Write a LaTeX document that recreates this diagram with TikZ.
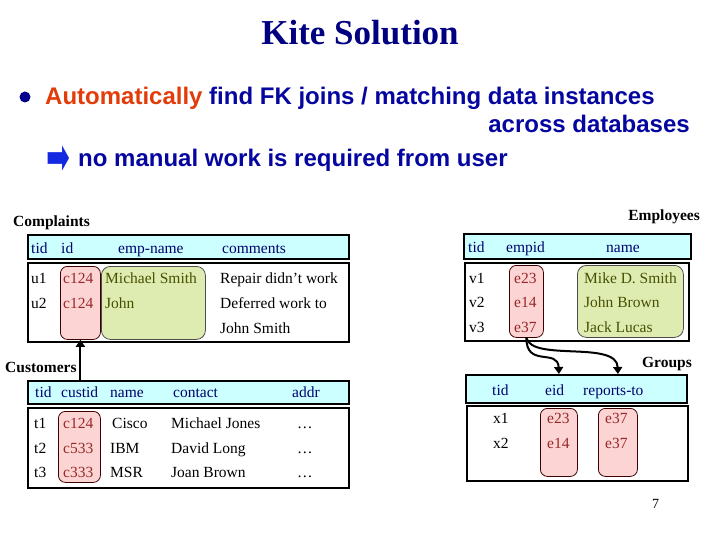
\documentclass[tikz,border=0pt]{standalone}
\usepackage{fontspec}
\usepackage{graphicx}
\setmainfont{Liberation Serif}
\newfontfamily\KTsans{Liberation Sans}
\newfontfamily\KTdeja{DejaVu Sans}
\usetikzlibrary{arrows.meta}
\definecolor{navy}{RGB}{0,0,128}
\definecolor{bulc}{RGB}{5,5,160}
\definecolor{bulldot}{RGB}{0,0,140}
\definecolor{arrc}{RGB}{20,40,225}
\definecolor{autoc}{RGB}{225,60,10}
\definecolor{hdrc}{RGB}{204,255,255}
\definecolor{pinkc}{RGB}{252,212,212}
\definecolor{greenc}{RGB}{222,236,178}
\definecolor{pinkt}{RGB}{150,40,40}
\definecolor{greent}{RGB}{70,80,0}
\definecolor{hdrt}{RGB}{0,0,110}
\newcommand\KTtbl{\fontsize{15.5}{18}\selectfont}
\newcommand\KTlab{\fontsize{15.5}{18}\selectfont\bfseries}
\newcommand\KTbul{\KTsans\bfseries\fontsize{24}{28}\selectfont}
\newcommand\KTtitle{\fontsize{35}{40}\selectfont\bfseries}
\begin{document}
\begin{tikzpicture}[x=1pt,y=-1pt,
  hdr/.style={draw=black, line width=2.4pt, fill=hdrc, anchor=north west, inner sep=0},
  body/.style={draw=black, line width=2.4pt, fill=white, anchor=north west, inner sep=0},
  pinkb/.style={draw=black!60!red!60!black, fill=pinkc, line width=0.8pt, rounded corners=7pt, anchor=north west, inner sep=0},
  greenb/.style={draw=black!70, fill=greenc, line width=0.8pt, rounded corners=9pt, anchor=north west, inner sep=0},
  txt/.style={anchor=base west, inner sep=0, font=\KTtbl},
  ht/.style={txt, text=hdrt},
  pt/.style={txt, text=pinkt},
  gt/.style={txt, text=greent},
  lab/.style={anchor=base west, inner sep=0, font=\KTlab},
  conn/.style={line width=2pt, -{Triangle[length=7pt,width=9pt]}},
  btxt/.style={anchor=base west, inner sep=0, font=\KTbul, text=bulc}]
\useasboundingbox (0,0) rectangle (720,540);
% title
\node[anchor=base, inner sep=0, font=\KTtitle, text=navy] (title) at (360,45) {Kite Solution};
% bullet
\node[circle, fill=bulldot, inner sep=0, minimum size=11pt] (bullet) at (25,97) {};
\node[btxt] (b1) at (45,105) {\textcolor{autoc}{Automatically} find FK joins / matching data instances};
\node[btxt, anchor=base east] (b2) at (690,133) {across databases};
\node[anchor=center, inner sep=0, text=arrc, font=\KTdeja\fontsize{30}{34}\selectfont] (b3a) at (58,160) {\scalebox{0.95}[1.7]{➡}};
\node[btxt] (b3) at (78,167) {no manual work is required from user};

% ---------------- Complaints
\node[lab] (clab) at (13,226) {Complaints};
\node[hdr, minimum width=321pt, minimum height=24pt] (chd) at (27,234) {};
\node[body, minimum width=321pt, minimum height=79pt] (cbd) at (27,262) {};
\node[pinkb, minimum width=40pt, minimum height=73pt] (cpk) at (60,266) {};
\node[greenb, minimum width=104pt, minimum height=73pt] (cgr) at (101,266) {};
\node[ht] (ch1) at (31,253) {tid};
\node[ht] (ch2) at (61,253) {id};
\node[ht] (ch3) at (118,253) {emp-name};
\node[ht] (ch4) at (222,253) {comments};
\node[txt] (cu1) at (31,283) {u1};
\node[pt] (cc1) at (63,283) {c124};
\node[gt] (cn1) at (105,283) {Michael Smith};
\node[txt] (cm1) at (220,283) {Repair didn't work};
\node[txt] (cu2) at (31,308) {u2};
\node[pt] (cc2) at (63,308) {c124};
\node[gt] (cn2) at (105,308) {John};
\node[txt] (cm2) at (220,308) {Deferred work to};
\node[txt] (cm3) at (220,333) {John Smith};

% ---------------- Employees
\node[lab, anchor=base east] (elab) at (700,221) {Employees};
\node[hdr, minimum width=227pt, minimum height=25pt] (ehd) at (463,233) {};
\node[body, minimum width=224pt, minimum height=78pt] (ebd) at (464,262) {};
\node[pinkb, minimum width=34pt, minimum height=72pt] (epk) at (509,265) {};
\node[greenb, minimum width=106pt, minimum height=72pt] (egr) at (577,265) {};
\node[ht] (eh1) at (468,252) {tid};
\node[ht] (eh2) at (506,252) {empid};
\node[ht] (eh3) at (606,252) {name};
\node[txt] (ev1) at (469,283) {v1};
\node[pt] (ee1) at (514,283) {e23};
\node[gt] (en1) at (584,283) {Mike D. Smith};
\node[txt] (ev2) at (469,307) {v2};
\node[pt] (ee2) at (514,307) {e14};
\node[gt] (en2) at (584,307) {John Brown};
\node[txt] (ev3) at (469,332) {v3};
\node[pt] (ee3) at (514,332) {e37};
\node[gt] (en3) at (584,332) {Jack Lucas};

% ---------------- Customers
\node[lab] (ulab) at (5,372) {Customers};
\node[hdr, minimum width=321pt, minimum height=23pt] (uhd) at (27,380) {};
\node[body, minimum width=321pt, minimum height=80pt] (ubd) at (27,407) {};
\node[pinkb, minimum width=42pt, minimum height=71pt] (upk) at (58,411) {};
\node[ht] (uh1) at (35,397) {tid};
\node[ht] (uh2) at (61,397) {custid};
\node[ht] (uh3) at (110,397) {name};
\node[ht] (uh4) at (173,397) {contact};
\node[ht] (uh5) at (292,397) {addr};
\node[txt] (ut1) at (34,428) {t1};
\node[pt] (uc1) at (63,428) {c124};
\node[txt] (un1) at (112,428) {Cisco};
\node[txt] (um1) at (171,428) {Michael Jones};
\node[txt] (ua1) at (297,428) {\dots};
\node[txt] (ut2) at (34,453) {t2};
\node[pt] (uc2) at (63,453) {c533};
\node[txt] (un2) at (110,453) {IBM};
\node[txt] (um2) at (171,453) {David Long};
\node[txt] (ua2) at (297,453) {\dots};
\node[txt] (ut3) at (34,477) {t3};
\node[pt] (uc3) at (63,477) {c333};
\node[txt] (un3) at (110,477) {MSR};
\node[txt] (um3) at (171,477) {Joan Brown};
\node[txt] (ua3) at (297,477) {\dots};

% ---------------- Groups
\node[lab, anchor=base east] (glab) at (692,367) {Groups};
\node[hdr, minimum width=221pt, minimum height=28pt] (ghd) at (465,374) {};
\node[body, minimum width=221pt, minimum height=75pt] (gbd) at (466,405) {};
\node[pinkb, minimum width=37pt, minimum height=68pt] (gpk1) at (540,408) {};
\node[pinkb, minimum width=39pt, minimum height=68pt] (gpk2) at (598,408) {};
\node[ht] (gh1) at (492,395) {tid};
\node[ht] (gh2) at (545,395) {eid};
\node[ht] (gh3) at (583,395) {reports-to};
\node[txt] (gx1) at (493,423) {x1};
\node[pt] (ge1) at (547,423) {e23};
\node[pt] (gr1) at (605,423) {e37};
\node[txt] (gx2) at (493,448) {x2};
\node[pt] (ge2) at (547,448) {e14};
\node[pt] (gr2) at (605,448) {e37};

% page number
\node[txt, font=\fontsize{14}{16}\selectfont] (pg) at (652,508) {7};

% connectors
\draw[conn] (cpk.south |- uhd.north) -- (cpk.south);
\draw[conn] (epk.south) .. controls (526,368) and (558,348) .. (gpk1.north |- ghd.north);
\draw[conn] (epk.south) .. controls (532,362) and (617,340) .. (gpk2.north |- ghd.north);
\end{tikzpicture}
\end{document}
